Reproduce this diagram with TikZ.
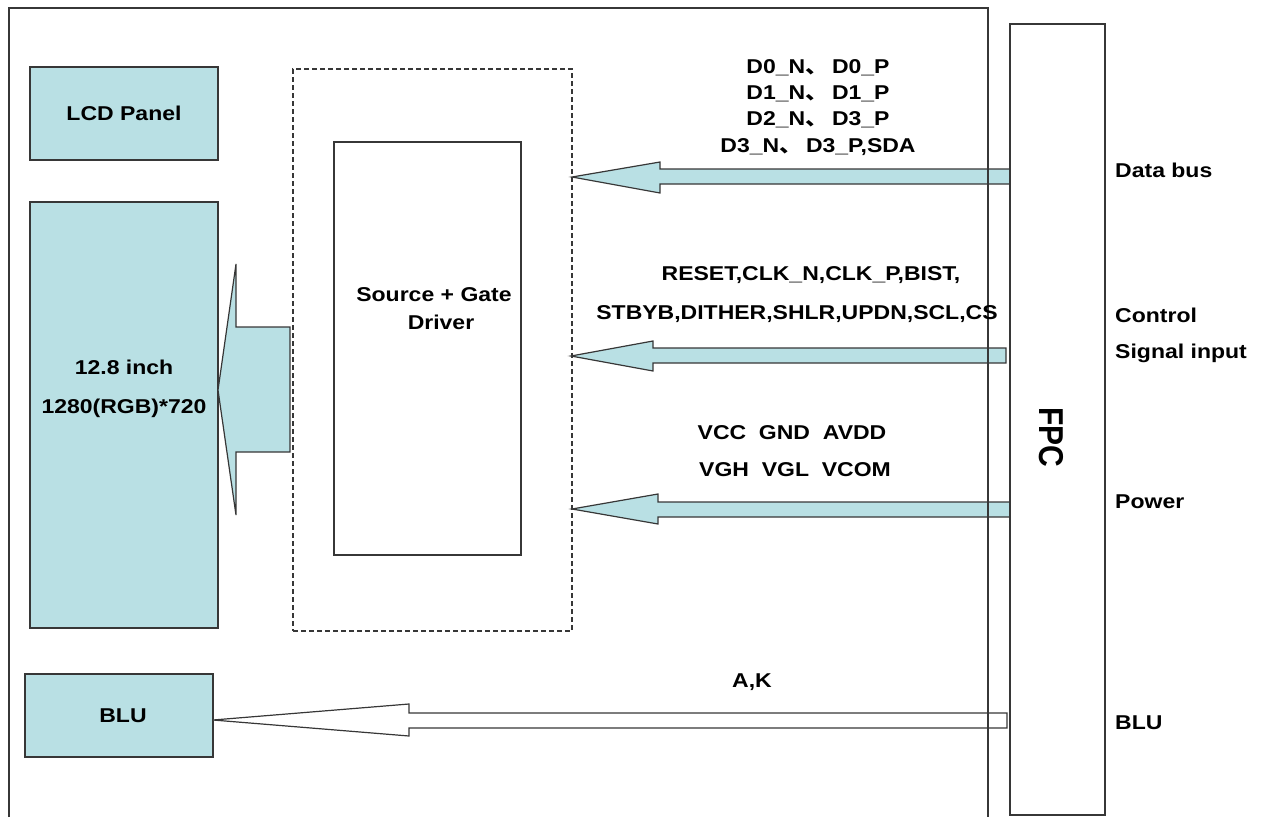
\documentclass[tikz,border=0pt]{standalone}
\usepackage{fontspec}
\setmainfont{Liberation Sans}
\newfontfamily\cjk{Noto Sans CJK SC}
\newcommand\sq[1]{\scalebox{1.15}[1]{#1}}
\definecolor{boxfill}{RGB}{185,224,228}
\definecolor{linec}{RGB}{55,55,55}
\begin{document}
\begin{tikzpicture}[x=1pt,y=-1pt,
  box/.style={draw=linec, line width=1.5pt, fill=boxfill, inner sep=0pt},
  plain/.style={draw=linec, line width=1.5pt, fill=white, inner sep=0pt},
  txt/.style={font=\fontsize{20}{24}\selectfont\bfseries, inner sep=0pt},
  blockarrow/.style={draw=linec, line width=1.2pt, fill=boxfill, line join=miter},
  whitearrow/.style={draw=linec, line width=1.2pt, fill=white, line join=miter}]
\useasboundingbox (0,0) rectangle (1261,817);
% left blocks
\node[box, minimum width=188pt, minimum height=93pt] (lcd) at (124,113.5) {};
\node[txt] (lcdt) at (lcd.center) {\sq{LCD Panel}};
\node[box, minimum width=188pt, minimum height=426pt] (panel) at (124,415) {};
\node[txt] (p1) at (124,367) {\sq{12.8 inch}};
\node[txt] (p2) at (124,408) {\sq{1280(RGB)*720}};
\node[box, minimum width=188pt, minimum height=83pt] (blu) at (119,715.5) {};
\node[txt] (blut) at (123,716) {\sq{BLU}};
% driver
\node[draw=linec, line width=1.2pt, dash pattern=on 5pt off 3pt, minimum width=279pt, minimum height=562pt, inner sep=0pt] (dash) at (432.5,350) {};
\node[plain, minimum width=187pt, minimum height=413pt] (drv) at (427.5,348.5) {};
\node[txt] (d1) at (434,295) {\sq{Source + Gate}};
\node[txt] (d2) at (441,322) {\sq{Driver}};
% big arrow to panel
\draw[blockarrow] (218,390) -- (236,264) -- (236,327) -- (290,327) -- (290,452) -- (236,452) -- (236,515) -- cycle;
% data bus arrow
\draw[blockarrow] (572,177) -- (660,162) -- (660,169) -- (1010,169) -- (1010,184) -- (660,184) -- (660,193) -- cycle;
% control arrow
\draw[blockarrow] (571,356) -- (653,341) -- (653,348) -- (1006,348) -- (1006,363) -- (653,363) -- (653,371) -- cycle;
% power arrow
\draw[blockarrow] (572,509) -- (658,494) -- (658,502) -- (1010,502) -- (1010,517) -- (658,517) -- (658,524) -- cycle;
% BLU arrow
\draw[whitearrow] (213,720) -- (409,704) -- (409,713) -- (1007,713) -- (1007,728) -- (409,728) -- (409,736) -- cycle;
% outer frame
\draw[draw=linec, line width=1.5pt] (9,817) -- (9,8) -- (988,8) -- (988,817);
% FPC
\node[plain, minimum width=95pt, minimum height=791pt] (fpc) at (1057.5,419.5) {};
\node[font=\fontsize{30}{34}\selectfont\bfseries, inner sep=0pt, rotate=-90] (fpct) at (1051,437) {\scalebox{1}[1.15]{FPC}};
% data labels
\node[txt] (l1) at (818,68) {\sq{D0\_N{\cjk 、}\,D0\_P}};
\node[txt] (l2) at (818,94) {\sq{D1\_N{\cjk 、}\,D1\_P}};
\node[txt] (l3) at (818,120) {\sq{D2\_N{\cjk 、}\,D3\_P}};
\node[txt] (l4) at (818,147) {\sq{D3\_N{\cjk 、}\,D3\_P,SDA}};
\node[txt] (c1) at (811,275) {\sq{RESET,CLK\_N,CLK\_P,BIST,}};
\node[txt] (c2) at (797,314) {\sq{STBYB,DITHER,SHLR,UPDN,SCL,CS}};
\node[txt] (v1) at (792,433) {\sq{VCC\ \ GND\ \ AVDD}};
\node[txt] (v2) at (795,470) {\sq{VGH\ \ VGL\ \ VCOM}};
\node[txt] (ak) at (752,682) {\sq{A,K}};
% right labels
\node[txt, anchor=west] (r1) at (1115,170) {\sq{Data bus}};
\node[txt, anchor=west] (r2) at (1115,315) {\sq{Control}};
\node[txt, anchor=west] (r3) at (1115,353) {\sq{Signal input}};
\node[txt, anchor=west] (r4) at (1115,502) {\sq{Power}};
\node[txt, anchor=west] (r5) at (1115,723) {\sq{BLU}};
\end{tikzpicture}
\end{document}
